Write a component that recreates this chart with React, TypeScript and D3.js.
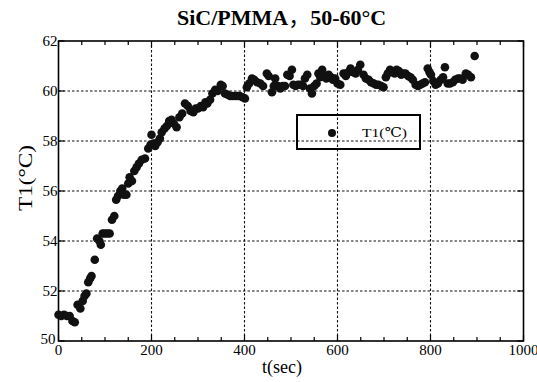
import React from "react";
import * as d3 from "d3";

const times = [0,6,12,18,24,30,35,41,47,52,56,60,64,68,71,78,83,88,91,95,100,105,110,115,120,124,128,133,137,141,146,150,153,158,163,168,173,179,186,193,198,200,204,208,213,218,222,228,233,238,243,248,254,260,266,272,278,284,290,295,300,306,311,316,320,326,331,337,342,349,353,358,364,369,374,380,385,390,396,401,405,410,416,421,427,434,440,448,452,459,463,466,472,477,482,487,492,497,502,505,510,515,520,526,530,535,541,545,550,555,559,563,567,572,576,581,586,590,595,600,606,613,618,623,628,634,639,644,649,656,661,667,672,678,683,688,694,699,704,708,713,718,723,727,732,737,741,746,752,757,762,768,773,778,783,788,794,798,801,806,811,816,822,827,831,837,842,848,853,859,864,869,876,881,887,895];
const temps = [51.05,51.0,51.05,51.0,51.0,50.8,50.75,51.45,51.3,51.6,51.8,51.9,52.35,52.5,52.6,53.25,54.1,54.0,53.85,54.3,54.3,54.3,54.3,54.85,55.0,55.65,55.8,56.0,56.1,55.85,55.85,56.3,56.55,56.4,56.8,56.95,57.1,57.25,57.3,57.7,57.85,58.25,57.9,57.8,57.95,58.1,58.35,58.5,58.6,58.8,58.85,58.7,58.55,58.95,59.1,59.5,59.4,59.2,59.15,59.3,59.3,59.4,59.35,59.55,59.5,59.65,59.9,60.05,60.0,60.25,60.2,59.9,59.85,59.8,59.8,59.8,59.8,59.8,59.75,59.7,60.15,60.3,60.5,60.45,60.35,60.3,60.2,60.7,60.6,59.95,60.2,60.5,60.2,60.1,60.2,60.2,60.65,60.6,60.85,60.25,60.2,60.25,60.25,60.2,60.5,60.65,60.1,59.9,60.2,60.3,60.7,60.55,60.85,60.6,60.5,60.65,60.55,60.45,60.5,60.3,60.25,60.7,60.6,60.75,60.9,60.75,60.7,60.85,61.05,60.65,60.5,60.45,60.35,60.3,60.25,60.25,60.2,60.15,60.55,60.7,60.85,60.75,60.7,60.85,60.8,60.65,60.7,60.7,60.6,60.55,60.45,60.25,60.2,60.25,60.3,60.35,60.9,60.75,60.65,60.4,60.25,60.3,60.45,60.55,60.95,60.3,60.3,60.35,60.45,60.5,60.5,60.45,60.7,60.65,60.55,61.4];

const xTicks = [0, 200, 400, 600, 800, 1000];
const yTicks = [50, 52, 54, 56, 58, 60, 62];
const titleA = "SiC/PMMA";
const titleComma = "，";
const titleB = "50-60°C";
const xLabel = "t(sec)";
const yLabel = "T1(°C)";
const legendLabel = "T1(℃)";

export default function App() {
  const W = 537, H = 382;
  const x = d3.scaleLinear().domain([0, 1000]).range([58.5, 523.5]);
  const y = d3.scaleLinear().domain([50, 62]).range([341, 41]);
  const font = '"Liberation Serif", "Times New Roman", "DejaVu Serif", serif';
  const minorX = d3.range(0, 1001, 50);
  const gridX = xTicks.filter((v) => v > 0 && v < 1000);
  const gridY = yTicks.filter((v) => v > 50 && v < 62);
  const [x0, x1] = x.range();
  const [yb, yt] = y.range();
  return (
    <svg width={W} height={H} style={{ position: "absolute", left: 0, top: 0, background: "#fff", fontFamily: font }}>
      <text x={177} y={25} fontSize={22} fontWeight="bold" style={{ fontFamily: font }}>
        <tspan>{titleA}</tspan>
        <tspan style={{ fontFamily: '"Noto Sans CJK SC", sans-serif' }} fontWeight="normal">{titleComma}</tspan>
        <tspan>{titleB}</tspan>
      </text>
      {/* grid */}
      <g stroke="#111" strokeWidth={1.1} strokeDasharray="2.5,2">
        {gridX.map((v) => (
          <line key={"gx" + v} x1={x(v)} x2={x(v)} y1={yt} y2={yb} />
        ))}
        {gridY.map((v) => (
          <line key={"gy" + v} x1={x0} x2={x1} y1={y(v)} y2={y(v)} />
        ))}
      </g>
      {/* ticks */}
      <g stroke="#000" strokeWidth={1.2}>
        {minorX.map((v) => {
          const len = v % 200 === 0 ? 6 : 4;
          return (
            <g key={"mt" + v}>
              <line x1={x(v)} x2={x(v)} y1={yb} y2={yb - len} />
              <line x1={x(v)} x2={x(v)} y1={yt} y2={yt + len} />
            </g>
          );
        })}
        {yTicks.map((v) => (
          <g key={"yt" + v}>
            <line x1={x0} x2={x0 + 6} y1={y(v)} y2={y(v)} />
            <line x1={x1} x2={x1 - 6} y1={y(v)} y2={y(v)} />
          </g>
        ))}
      </g>
      {/* frame */}
      <rect x={x0} y={yt} width={x1 - x0} height={yb - yt} fill="none" stroke="#000" strokeWidth={1.6} />
      {/* tick labels */}
      <g fontSize={15} fill="#000" style={{ fontFamily: font }}>
        {xTicks.map((v) => (
          <text key={"xl" + v} x={x(v)} y={yb + 14} textAnchor="middle">{v}</text>
        ))}
        {yTicks.map((v) => (
          <text key={"yl" + v} x={v === 50 ? x0 - 3 : x0 - 1} y={v === 50 ? y(v) + 3 : y(v) + 5} textAnchor="end">{v}</text>
        ))}
      </g>
      <text x={282} y={373} textAnchor="middle" fontSize={18} style={{ fontFamily: font }}>{xLabel}</text>
      <text transform={`translate(32,178) rotate(-90)`} textAnchor="middle" fontSize={19} textLength={66} lengthAdjust="spacingAndGlyphs" style={{ fontFamily: font }}>{yLabel}</text>
      {/* data */}
      <g fill="#111">
        {times.map((t, i) => (
          <circle key={"p" + i} cx={x(t)} cy={y(temps[i])} r={4.3} />
        ))}
      </g>
      {/* legend */}
      <rect x={297} y={115} width={123} height={34} fill="none" stroke="#000" strokeWidth={2} />
      <circle cx={332} cy={133} r={4} fill="#111" />
      <text x={362} y={137} fontSize={13.5} textLength={45} lengthAdjust="spacingAndGlyphs" style={{ fontFamily: font }}>{legendLabel}</text>
    </svg>
  );
}
